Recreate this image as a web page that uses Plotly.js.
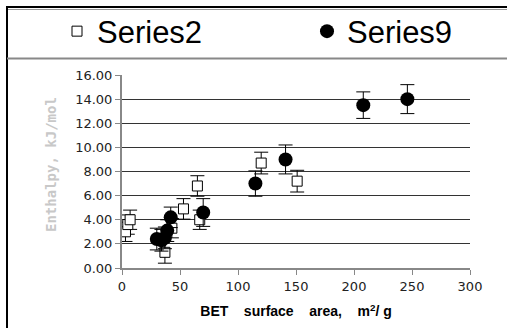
<!DOCTYPE html>
<html>
<head>
<meta charset="utf-8">
<script src="https://cdn.plot.ly/plotly-3.0.1.min.js"></script>
<style>
  html, body { margin: 0; padding: 0; background: #fff; }
  #chart { width: 507px; height: 328px; }
</style>
</head>
<body>
<div id="chart"></div>
<script>
// Series2: open squares
const s2X = [3, 5, 7, 37, 43, 53, 65, 67, 120, 151];
const s2Y = [3.0, 3.6, 4.0, 1.3, 3.3, 4.9, 6.8, 4.0, 8.7, 7.2];
const s2Err = [0.8, 0.8, 0.8, 0.9, 0.8, 0.85, 0.85, 0.8, 0.9, 0.9];

// Series9: filled circles
const s9X = [30, 34, 37, 39, 42, 70, 115, 141, 208, 246];
const s9Y = [2.4, 2.3, 2.5, 3.1, 4.2, 4.6, 7.0, 9.0, 13.5, 14.0];
const s9Err = [0.9, 0.9, 0.9, 0.9, 0.85, 1.15, 1.05, 1.2, 1.1, 1.2];

const xTicks = [0, 50, 100, 150, 200, 250, 300];
const yTicks = [0, 2, 4, 6, 8, 10, 12, 14, 16];

const traces = [
  {
    name: 'Series2', x: s2X, y: s2Y, type: 'scatter', mode: 'markers', legend: 'legend',
    marker: { symbol: 'square', size: 10, color: '#fff', line: { color: '#000', width: 1 } },
    error_y: { type: 'data', array: s2Err, visible: true, color: '#000', thickness: 1, width: 7 }
  },
  {
    name: 'Series9', x: s9X, y: s9Y, type: 'scatter', mode: 'markers', legend: 'legend2',
    marker: { symbol: 'circle', size: 14, color: '#000', line: { color: '#000', width: 0 } },
    error_y: { type: 'data', array: s9Err, visible: true, color: '#000', thickness: 1, width: 7 }
  }
];

const W = 507, H = 328, L = 122, R = 37, T = 75, B = 60;
const pw = W - L - R, ph = H - T - B;
const px = v => (v - L) / pw;           // pixel x -> paper x
const py = v => (H - B - v) / ph;       // pixel y -> paper y

const legendFont = { family: 'Liberation Sans, Arial', size: 31, color: '#000' };
const NB = '\u00A0';
const gap = NB.repeat(4);

const layout = {
  width: W, height: H,
  margin: { l: L, r: R, t: T, b: B, pad: 0, autoexpand: false },
  paper_bgcolor: '#fff', plot_bgcolor: '#fff',
  font: { family: 'DejaVu Sans', color: '#222' },
  showlegend: true,
  legend: {
    orientation: 'h', x: px(57), y: py(31.5), xanchor: 'left', yanchor: 'middle',
    font: legendFont, bgcolor: 'rgba(0,0,0,0)', borderwidth: 0
  },
  legend2: {
    orientation: 'h', x: px(307), y: py(31.5), xanchor: 'left', yanchor: 'middle',
    font: legendFont, bgcolor: 'rgba(0,0,0,0)', borderwidth: 0
  },
  xaxis: {
    range: [0, 300], tickvals: xTicks, ticktext: xTicks.map(String),
    showgrid: false, zeroline: false,
    showline: true, linecolor: '#888', linewidth: 2,
    ticks: 'outside', ticklen: 5, tickcolor: '#888', tickwidth: 1,
    tickfont: { family: 'DejaVu Sans', size: 13, color: '#222' },
    title: { text: 'BET' + gap + 'surface' + gap + 'area,' + gap + 'm<sup>2</sup>/' + NB + 'g',
             standoff: 14,
             font: { family: 'Liberation Sans, Arial', size: 14, color: '#000', weight: 'bold' } }
  },
  yaxis: {
    range: [0, 16], tickvals: yTicks, ticktext: yTicks.map(v => v.toFixed(2)),
    showgrid: true, gridcolor: '#333', gridwidth: 1, zeroline: false,
    showline: true, linecolor: '#888', linewidth: 2,
    ticks: 'outside', ticklen: 5, tickcolor: '#888', tickwidth: 1,
    tickfont: { family: 'DejaVu Sans', size: 13, color: '#222' }
  },
  annotations: [
    {
      text: 'Enthalpy, kJ/mol', xref: 'paper', yref: 'paper',
      x: px(51), y: py(165), xanchor: 'center', yanchor: 'middle',
      textangle: -90, showarrow: false,
      font: { family: 'DejaVu Sans Mono', size: 14, color: '#c8c8c8', weight: 'bold' }
    }
  ],
  shapes: [
    // outer frame: top rule, left rule and legend divider
    { type: 'line', xref: 'paper', yref: 'paper', x0: px(7), x1: px(W), y0: py(7), y1: py(7),
      line: { color: '#000', width: 2 } },
    { type: 'line', xref: 'paper', yref: 'paper', x0: px(7), x1: px(W), y0: py(9.5), y1: py(9.5),
      line: { color: '#999', width: 1 } },
    { type: 'line', xref: 'paper', yref: 'paper', x0: px(7), x1: px(7), y0: py(6), y1: py(H),
      line: { color: '#000', width: 2 } },
    { type: 'line', xref: 'paper', yref: 'paper', x0: px(7), x1: px(W), y0: py(58.5), y1: py(58.5),
      line: { color: '#888', width: 2 } }
  ]
};

Plotly.newPlot('chart', traces, layout, { staticPlot: true, displayModeBar: false });
</script>
</body>
</html>
